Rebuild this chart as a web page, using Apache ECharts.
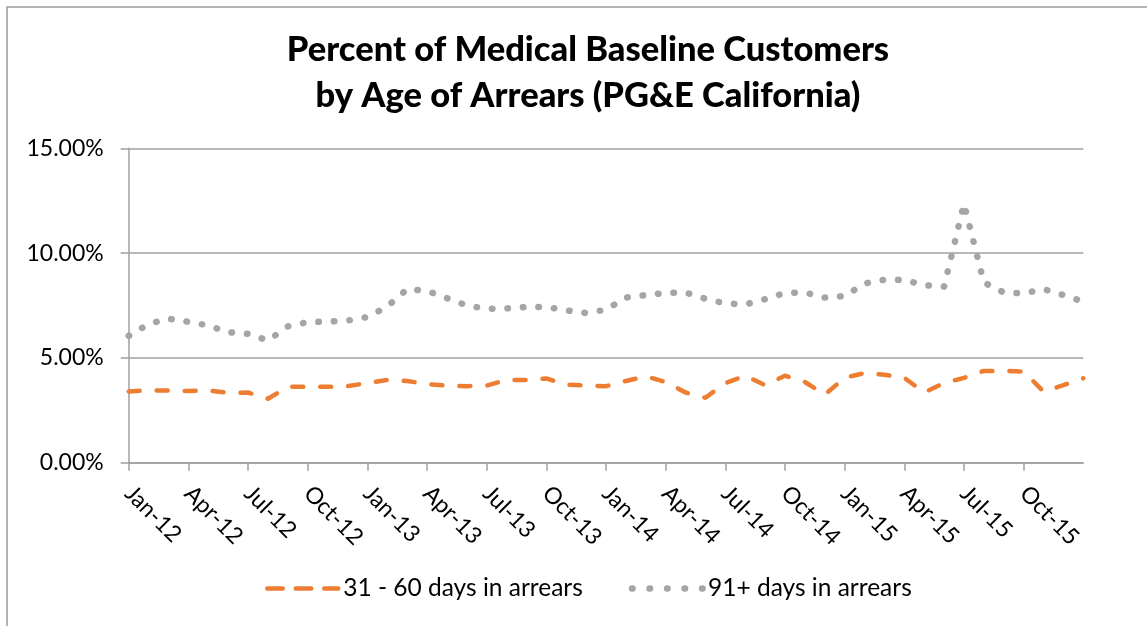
<!DOCTYPE html>
<html>
<head>
<meta charset="utf-8">
<script src="https://cdn.jsdelivr.net/npm/echarts@6/dist/echarts.min.js"></script>
<style>
  html, body { margin: 0; padding: 0; background: #fff; }
  #chart { width: 1147px; height: 626px; }
</style>
</head>
<body>
<div id="chart"></div>
<script>
// months Jan-12 .. Jan-16
const months = [
  "Jan-12", "Feb-12", "Mar-12", "Apr-12", "May-12", "Jun-12", "Jul-12", "Aug-12", "Sep-12", "Oct-12", "Nov-12", "Dec-12",
  "Jan-13", "Feb-13", "Mar-13", "Apr-13", "May-13", "Jun-13", "Jul-13", "Aug-13", "Sep-13", "Oct-13", "Nov-13", "Dec-13",
  "Jan-14", "Feb-14", "Mar-14", "Apr-14", "May-14", "Jun-14", "Jul-14", "Aug-14", "Sep-14", "Oct-14", "Nov-14", "Dec-14",
  "Jan-15", "Feb-15", "Mar-15", "Apr-15", "May-15", "Jun-15", "Jul-15", "Aug-15", "Sep-15", "Oct-15", "Nov-15", "Dec-15",
  "Jan-16",
];

// 31 - 60 days in arrears (%)
const days31to60 = [
  3.40, 3.45, 3.45, 3.42, 3.45, 3.33, 3.35, 3.05, 3.62, 3.62, 3.62, 3.65,
  3.80, 3.95, 3.90, 3.75, 3.68, 3.65, 3.68, 3.95, 3.95, 4.02, 3.72, 3.68,
  3.65, 3.90, 4.12, 3.85, 3.35, 3.10, 3.80, 4.15, 3.70, 4.15, 3.85, 3.25,
  4.05, 4.28, 4.20, 4.05, 3.35, 3.80, 4.05, 4.38, 4.38, 4.35, 3.40, 3.70,
  4.03,
];

// 91+ days in arrears (%)
const days91plus = [
  6.05, 6.62, 6.87, 6.72, 6.55, 6.22, 6.15, 5.83, 6.50, 6.71, 6.73, 6.78,
  6.95, 7.45, 8.28, 8.20, 7.85, 7.50, 7.34, 7.36, 7.43, 7.43, 7.27, 7.14,
  7.30, 7.88, 8.00, 8.10, 8.12, 7.82, 7.60, 7.55, 7.80, 8.10, 8.12, 7.88,
  7.95, 8.55, 8.73, 8.72, 8.47, 8.40, 12.35, 8.60, 8.12, 8.08, 8.28, 8.00,
  7.68,
];

const yTicks = [0, 5, 10, 15];

const FONT = "Lato";
const AXIS_GREY = "#a0a0a0";
const ORANGE = "#ed7d31";
const GREY = "#a5a5a5";

// only every third month gets a tick / label, and nothing at the very end
const everyQuarter = (idx) => idx % 3 === 0 && idx < months.length - 1;

const chart = echarts.init(document.getElementById("chart"));

chart.setOption({
  animation: false,
  backgroundColor: "#fff",
  textStyle: { fontFamily: FONT },
  graphic: [
    {
      type: "rect",
      shape: { x: 7, y: 7, width: 1400, height: 900 },
      style: { fill: "none", stroke: "#9a9a9a", lineWidth: 1.5 },
      silent: true,
    },
  ],
  title: {
    text: "Percent of Medical Baseline Customers\nby Age of Arrears (PG&E California)",
    left: 583,
    top: 22,
    textAlign: "center",
    textStyle: {
      fontFamily: FONT,
      fontWeight: 900,
      fontSize: 34.5,
      lineHeight: 46,
      color: "#000",
    },
  },
  grid: {
    left: 128.7,
    right: 63.7,
    top: 148.3,
    bottom: 163.3,
    containLabel: false,
  },
  legend: {
    bottom: 20,
    left: 260,
    itemWidth: 71,
    itemHeight: 14,
    itemGap: 46,
    itemStyle: { opacity: 0 },
    textStyle: { fontFamily: FONT, fontSize: 24.5, color: "#000" },
    data: [
      {
        name: "31 - 60 days in arrears",
        lineStyle: { color: ORANGE, width: 4.5, type: [15.5, 13], cap: "round" },
      },
      {
        name: "91+ days in arrears",
        lineStyle: { color: GREY, width: 6.5, type: [0.5, 17], cap: "round" },
      },
    ],
  },
  xAxis: {
    type: "category",
    data: months,
    boundaryGap: false,
    axisLine: { show: true, lineStyle: { color: AXIS_GREY, width: 1.5 } },
    axisTick: {
      show: true,
      interval: everyQuarter,
      length: 8,
      lineStyle: { color: AXIS_GREY, width: 1.5 },
    },
    axisLabel: {
      interval: everyQuarter,
      rotate: -45,
      margin: 27,
      fontFamily: FONT,
      fontSize: 23,
      color: "#000",
    },
    splitLine: { show: false },
  },
  yAxis: {
    type: "value",
    min: yTicks[0],
    max: yTicks[yTicks.length - 1],
    interval: 5,
    axisLine: { show: true, lineStyle: { color: AXIS_GREY, width: 1.5 } },
    axisTick: { show: true, length: 8, lineStyle: { color: AXIS_GREY, width: 1.5 } },
    axisLabel: {
      margin: 25,
      fontFamily: FONT,
      fontSize: 23,
      color: "#000",
      formatter: (v) => v.toFixed(2) + "%",
    },
    splitLine: { show: true, lineStyle: { color: AXIS_GREY, width: 1.5 } },
  },
  series: [
    {
      name: "31 - 60 days in arrears",
      type: "line",
      data: days31to60,
      showSymbol: false,
      symbol: "none",
      color: ORANGE,
      lineStyle: {
        color: ORANGE,
        width: 4.5,
        type: [11, 17],
        cap: "round",
        join: "round",
      },
    },
    {
      name: "91+ days in arrears",
      type: "line",
      data: days91plus,
      showSymbol: false,
      symbol: "none",
      color: GREY,
      lineStyle: {
        color: GREY,
        width: 6.5,
        type: [0.5, 15],
        cap: "round",
        join: "round",
      },
    },
  ],
});
</script>
</body>
</html>
